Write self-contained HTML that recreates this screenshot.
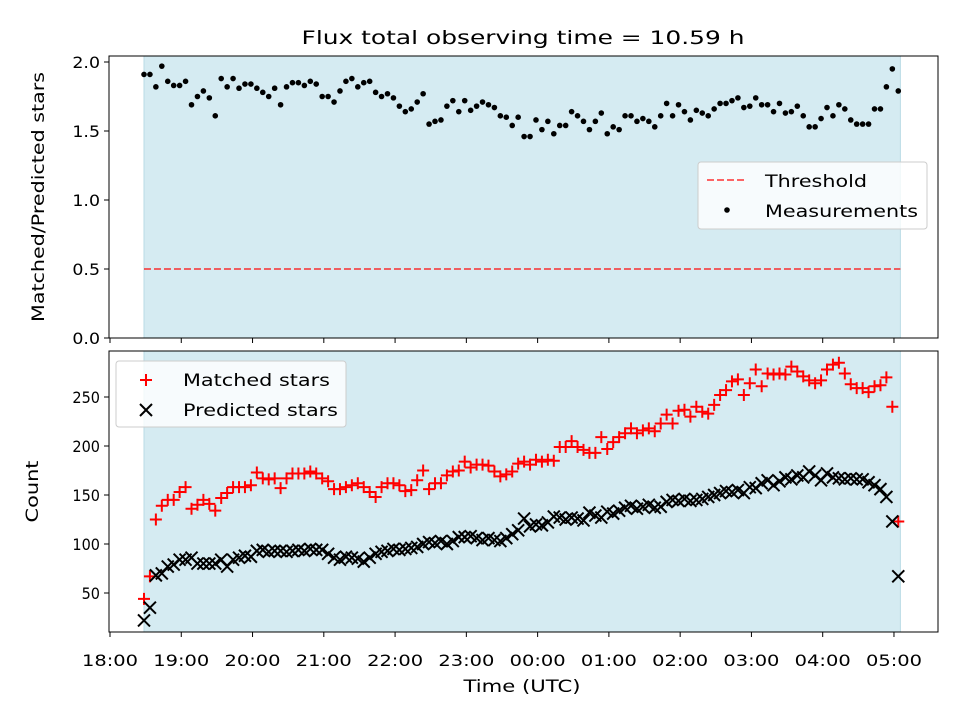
<!DOCTYPE html>
<html><head><meta charset="utf-8"><style>
body{margin:0;background:#fff;}
svg text{font-family:"DejaVu Sans","Liberation Sans",sans-serif;fill:#000;}
</style></head><body>
<svg id="c" width="960" height="720" viewBox="0 0 960 720" xmlns="http://www.w3.org/2000/svg">
<text x="523" y="44" font-size="19" text-anchor="middle" textLength="443" lengthAdjust="spacingAndGlyphs">Flux total observing time = 10.59 h</text>
<g id="top"></g>
<g id="bot"></g>
</svg>
<script>
const startHour = 18.477;
const stepMinutes = 5;
const ratioValues = [1.91,1.91,1.82,1.97,1.86,1.83,1.83,1.86,1.69,1.75,1.79,1.74,1.61,1.88,1.82,1.88,1.81,1.84,1.84,1.81,1.78,1.75,1.81,1.69,1.82,1.85,1.85,1.83,1.86,1.84,1.75,1.75,1.71,1.79,1.86,1.88,1.82,1.85,1.86,1.78,1.75,1.77,1.74,1.68,
1.64,1.66,1.71,1.77,1.55,1.57,1.58,1.68,1.72,1.64,1.72,1.65,1.68,1.71,1.69,1.67,1.61,1.60,1.54,1.60,1.46,1.46,1.58,1.51,1.57,1.48,1.54,1.54,1.64,1.61,1.57,1.51,1.57,1.63,1.48,1.53,1.51,1.61,1.61,1.57,1.59,1.57,
1.53,1.61,1.70,1.61,1.69,1.64,1.58,1.65,1.63,1.61,1.66,1.70,1.70,1.72,1.74,1.67,1.68,1.74,1.69,1.69,1.64,1.70,1.63,1.64,1.68,1.61,1.53,1.53,1.59,1.67,1.61,1.69,1.66,1.58,1.55,1.55,1.55,1.66,1.66,1.82,1.95,1.79];
const matchedValues = [44,67,125,139,145,145,153,158,136,140,145,141,134,147,152,158,158,158,160,173,167,166,167,157,167,172,172,172,174,172,167,164,156,156,158,160,162,158,153,148,158,162,162,
160,154,155,165,175,156,162,162,170,174,175,184,178,181,181,180,174,169,171,174,182,184,181,186,184,186,185,199,199,205,199,196,193,193,209,197,204,209,213,218,213,216,218,
215,223,232,223,236,237,230,240,235,233,242,252,257,266,268,252,264,278,261,274,273,274,273,281,276,271,267,264,267,278,283,285,274,263,259,259,255,261,262,270,240,123];
const predictedValues = [22,35,68,70,77,79,84,84,86,80,80,80,80,84,77,84,86,88,87,93,94,92,93,93,92,93,94,93,95,94,94,90,86,84,87,86,85,82,86,90,92,93,95,94,95,96,97,100,102,101,103,100,103,107,107,108,106,104,106,104,103,106,110,114,126,118,120,119,122,128,127,125,127,126,124,132,129,127,133,131,134,137,139,136,138,140,137,138,143,145,144,146,144,145,146,148,150,152,154,153,155,152,158,157,162,165,160,164,168,166,170,168,174,170,165,172,168,167,166,167,166,166,163,160,156,148,123,67];
const xTickLabels = ["18:00","19:00","20:00","21:00","22:00","23:00","00:00","01:00","02:00","03:00","04:00","05:00"];
const ratioTicks = [0,0.5,1,1.5,2];
const countTicks = [50,100,150,200,250];
const spanStartHour = 18.477, spanEndHour = 29.09;
const thresholdValue = 0.5;

const NS="http://www.w3.org/2000/svg";
function mk(p,tag,attrs){const e=document.createElementNS(NS,tag);for(const k in attrs)e.setAttribute(k,attrs[k]);p.appendChild(e);return e;}
const L=109,R=938;
const xs=h=>110+(h-18)*71.27;
const yTop=v=>338-v*138;
const yBot=v=>593-(v-50)*0.98;
const times=ratioValues.map((_,i)=>startHour+i*stepMinutes/60);

function panel(g,top,bottom,ys,ticks,fmt,labelText,labelX,labelLen){
  const s=mk(g,'rect',{x:xs(spanStartHour),y:top,width:xs(spanEndHour)-xs(spanStartHour),height:bottom-top,fill:'#d5ebf2',stroke:'#b9dbe6','stroke-width':1});
  
  
  ticks.forEach(t=>{const y=ys(t);
    const tk=mk(g,'line',{x1:L-5,x2:L,y1:y,y2:y,stroke:'#000','stroke-width':1});
    
    
    const lab=fmt(t);
    const tx=mk(g,'text',{x:L-9,y:y+6,'font-size':16,'text-anchor':'end',textLength:lab.length*9.2,lengthAdjust:'spacingAndGlyphs'});tx.textContent=lab;
    
    });
  xTickLabels.forEach((lab,i)=>{const x=xs(18+i);
    const tk=mk(g,'line',{x1:x,x2:x,y1:bottom,y2:bottom+5,stroke:'#000','stroke-width':1});
    
    });
  const cy=(top+bottom)/2;
  const yl=mk(g,'text',{x:labelX,y:cy,'font-size':17,'text-anchor':'middle',textLength:labelLen,lengthAdjust:'spacingAndGlyphs',transform:`rotate(-90 ${labelX} ${cy})`});
  yl.textContent=labelText;
  
  
}
function frame(g,top,bottom){const f=mk(g,'rect',{x:L,y:top,width:R-L,height:bottom-top,fill:'none',stroke:'#000','stroke-width':1});
  
  }
function plus(g,x,y){return mk(g,'path',{d:`M${x-6} ${y}H${x+6}M${x} ${y-6}V${y+6}`,stroke:'#f00','stroke-width':2,fill:'none'});}
function cross(g,x,y){return mk(g,'path',{d:`M${x-6} ${y-6}L${x+6} ${y+6}M${x-6} ${y+6}L${x+6} ${y-6}`,stroke:'#000','stroke-width':2,fill:'none'});}
function ltext(g,x,y,str,len){return mk(g,'text',{x:x,y:y,'font-size':17,textLength:len,lengthAdjust:'spacingAndGlyphs'});}

// top panel
const gt=document.getElementById('top');
panel(gt,56,338,yTop,ratioTicks,t=>t.toFixed(1),'Matched/Predicted stars',44,250);
const th=mk(gt,'line',{x1:xs(spanStartHour),x2:xs(spanEndHour),y1:yTop(thresholdValue),y2:yTop(thresholdValue),stroke:'#f00','stroke-opacity':0.6,'stroke-width':2,'stroke-dasharray':'7,3'});


ratioValues.forEach((v,i)=>{const c=mk(gt,'circle',{cx:xs(times[i]),cy:yTop(v),r:2.8,fill:'#000'});
  
  });
frame(gt,56,338);
const lg1=mk(gt,'g',{});


mk(lg1,'rect',{x:698,y:162,width:229,height:67,rx:3,fill:'#fff','fill-opacity':0.8,stroke:'#ccc'});
mk(lg1,'line',{x1:707,x2:747,y1:180,y2:180,stroke:'#f00','stroke-opacity':0.6,'stroke-width':2,'stroke-dasharray':'7,3'});
let t1=ltext(lg1,765,187,'',102);t1.textContent='Threshold';


mk(lg1,'circle',{cx:727,cy:210,r:2.8,fill:'#000'});
let t2=ltext(lg1,765,217,'',153);t2.textContent='Measurements';



// bottom panel
const gb=document.getElementById('bot');
panel(gb,351,632,yBot,countTicks,t=>String(t),'Count',38,62);
matchedValues.forEach((v,i)=>{const p=plus(gb,xs(times[i]),yBot(v));
  
  });
predictedValues.forEach((v,i)=>{const p=cross(gb,xs(times[i]),yBot(v));
  
  });
frame(gb,351,632);
xTickLabels.forEach((lab,i)=>{const tx=mk(gb,'text',{x:xs(18+i),y:666,'font-size':16,'text-anchor':'middle',textLength:56,lengthAdjust:'spacingAndGlyphs'});tx.textContent=lab;
  
  });
const xl=mk(gb,'text',{x:522,y:692,'font-size':17,'text-anchor':'middle',textLength:117,lengthAdjust:'spacingAndGlyphs'});xl.textContent='Time (UTC)';


const lg2=mk(gb,'g',{});


mk(lg2,'rect',{x:116,y:361,width:230,height:66,rx:3,fill:'#fff','fill-opacity':0.8,stroke:'#ccc'});
plus(lg2,146,380);
let t3=ltext(lg2,183,386,'',147);t3.textContent='Matched stars';


cross(lg2,146,410);
let t4=ltext(lg2,183,416,'',155);t4.textContent='Predicted stars';


</script>
</body></html>
